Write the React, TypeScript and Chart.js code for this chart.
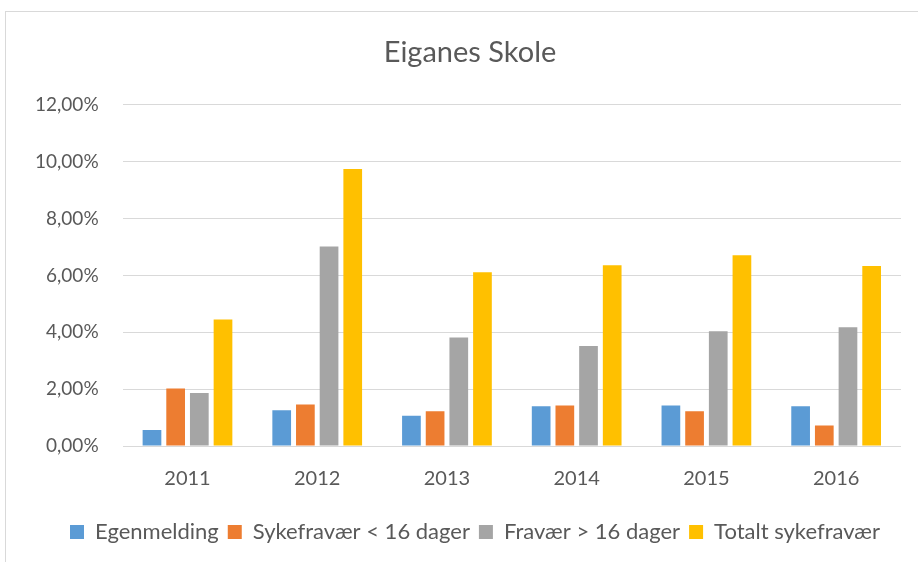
import React, { useEffect, useRef } from "react";
import { Chart, registerables } from "chart.js";

Chart.register(...registerables);

const categories = ["2011", "2012", "2013", "2014", "2015", "2016"];
const egenmelding = [0.56, 1.26, 1.06, 1.4, 1.42, 1.4];
const sykefravaerUnder16 = [2.02, 1.46, 1.22, 1.42, 1.22, 0.72];
const fravaerOver16 = [1.86, 7.02, 3.82, 3.52, 4.04, 4.18];
const totaltSykefravaer = [4.45, 9.74, 6.11, 6.36, 6.71, 6.33];
const seriesNames = ["Egenmelding", "Sykefravær < 16 dager", "Fravær > 16 dager", "Totalt sykefravær"];
const yTicks = [0, 2, 4, 6, 8, 10, 12];

const FONT = "Lato, 'Noto Sans', sans-serif";
const TEXT = "#595959";

const shiftBoxes = {
  id: "shiftBoxes",
  afterLayout(chart: any) {
    if (chart.titleBlock) {
      chart.titleBlock.left += 14;
      chart.titleBlock.right += 14;
    }
    if (chart.legend) {
      chart.legend.left += 19;
      chart.legend.right += 19;
    }
  },
};

export default function App() {
  const ref = useRef<HTMLCanvasElement>(null);
  useEffect(() => {
    document.body.style.margin = "0";
    const chart = new Chart(ref.current!, {
      type: "bar",
      data: {
        labels: categories,
        datasets: [
          { label: seriesNames[0], data: egenmelding, backgroundColor: "#5B9BD5" },
          { label: seriesNames[1], data: sykefravaerUnder16, backgroundColor: "#ED7D31" },
          { label: seriesNames[2], data: fravaerOver16, backgroundColor: "#A5A5A5" },
          { label: seriesNames[3], data: totaltSykefravaer, backgroundColor: "#FFC000" },
        ],
      },
      plugins: [shiftBoxes],
      options: {
        animation: false,
        responsive: false,
        devicePixelRatio: 1,
        layout: { padding: { left: 11, right: 17, top: 0, bottom: 9 } },
        datasets: { bar: { categoryPercentage: 0.73, barPercentage: 0.79 } },
        plugins: {
          tooltip: { enabled: false },
          title: {
            display: true,
            text: "Eiganes Skole",
            color: TEXT,
            font: { family: FONT, size: 29, weight: "normal", lineHeight: 1.2 },
            padding: { top: 35, bottom: 35 },
          },
          legend: {
            position: "bottom",
            labels: {
              color: TEXT,
              font: { family: FONT, size: 22 },
              boxWidth: 14,
              boxHeight: 14,
              padding: 9,
            },
          },
        },
        scales: {
          x: {
            grid: { display: false, drawTicks: false },
            border: { display: false },
            ticks: { color: TEXT, font: { family: FONT, size: 20 }, padding: 21 },
          },
          y: {
            min: 0,
            max: 12,
            afterBuildTicks: (axis: any) => {
              axis.ticks = yTicks.map((v) => ({ value: v }));
            },
            grid: { color: "#D9D9D9", lineWidth: 1, drawTicks: false },
            border: { display: false },
            ticks: {
              color: TEXT,
              font: { family: FONT, size: 19 },
              padding: 24,
              callback: (v: any) => Number(v).toFixed(2).replace(".", ",") + "%",
            },
          },
        },
      },
    });
    return () => chart.destroy();
  }, []);
  return (
    <div style={{ position: "fixed", left: 0, top: 0, width: 918, height: 562, overflow: "hidden", background: "#fff" }}>
      <div style={{ position: "absolute", left: 5, top: 11, width: 1000, height: 700, border: "1px solid #D9D9D9" }} />
      <canvas ref={ref} width={918} height={562} style={{ position: "absolute", left: 0, top: 0 }} />
    </div>
  );
}
